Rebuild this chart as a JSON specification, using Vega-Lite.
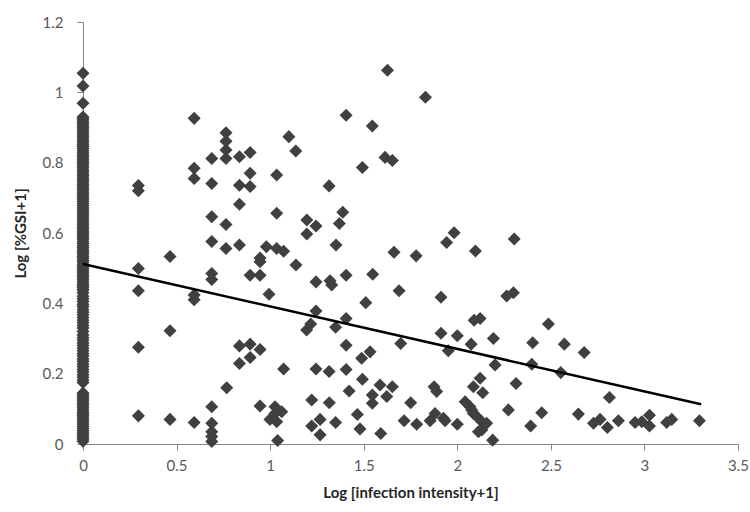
{
  "$schema": "https://vega.github.io/schema/vega-lite/v6.json",
  "autosize": "none",
  "width": 655,
  "height": 422,
  "padding": {"left": 83, "top": 22, "right": 12, "bottom": 68},
  "background": "white",
  "config": {
    "view": {"stroke": null},
    "font": "Lato",
    "axis": {
      "grid": false,
      "domainColor": "#868686",
      "tickColor": "#868686",
      "labelColor": "#595959",
      "labelFont": "Lato",
      "labelFontSize": 15,
      "titleFont": "Lato",
      "titleFontSize": 15,
      "titleFontWeight": "bold",
      "titleColor": "#262626",
      "tickSize": 6
    }
  },
  "datasets": {
    "pts": [
      {"x": 0, "y": 1.054}, {"x": 0, "y": 1.018}, {"x": 0, "y": 0.969},
      {"x": 0, "y": 0.93}, {"x": 0, "y": 0.924}, {"x": 0, "y": 0.918}, {"x": 0, "y": 0.912}, {"x": 0, "y": 0.906}, {"x": 0, "y": 0.9}, {"x": 0, "y": 0.894}, {"x": 0, "y": 0.888}, {"x": 0, "y": 0.882},
      {"x": 0, "y": 0.876}, {"x": 0, "y": 0.87}, {"x": 0, "y": 0.864}, {"x": 0, "y": 0.858}, {"x": 0, "y": 0.852}, {"x": 0, "y": 0.846}, {"x": 0, "y": 0.84}, {"x": 0, "y": 0.834}, {"x": 0, "y": 0.828}, {"x": 0, "y": 0.822},
      {"x": 0, "y": 0.816}, {"x": 0, "y": 0.81}, {"x": 0, "y": 0.804}, {"x": 0, "y": 0.798}, {"x": 0, "y": 0.792}, {"x": 0, "y": 0.786}, {"x": 0, "y": 0.78}, {"x": 0, "y": 0.774}, {"x": 0, "y": 0.768}, {"x": 0, "y": 0.762},
      {"x": 0, "y": 0.756}, {"x": 0, "y": 0.75}, {"x": 0, "y": 0.744}, {"x": 0, "y": 0.738}, {"x": 0, "y": 0.732}, {"x": 0, "y": 0.726}, {"x": 0, "y": 0.72}, {"x": 0, "y": 0.714}, {"x": 0, "y": 0.708}, {"x": 0, "y": 0.702},
      {"x": 0, "y": 0.696}, {"x": 0, "y": 0.69}, {"x": 0, "y": 0.684}, {"x": 0, "y": 0.678}, {"x": 0, "y": 0.672}, {"x": 0, "y": 0.666}, {"x": 0, "y": 0.66}, {"x": 0, "y": 0.654}, {"x": 0, "y": 0.648}, {"x": 0, "y": 0.642},
      {"x": 0, "y": 0.636}, {"x": 0, "y": 0.63}, {"x": 0, "y": 0.624}, {"x": 0, "y": 0.618}, {"x": 0, "y": 0.612}, {"x": 0, "y": 0.606}, {"x": 0, "y": 0.6}, {"x": 0, "y": 0.594}, {"x": 0, "y": 0.588}, {"x": 0, "y": 0.582},
      {"x": 0, "y": 0.576}, {"x": 0, "y": 0.57}, {"x": 0, "y": 0.564}, {"x": 0, "y": 0.558}, {"x": 0, "y": 0.552}, {"x": 0, "y": 0.546}, {"x": 0, "y": 0.54}, {"x": 0, "y": 0.534}, {"x": 0, "y": 0.528}, {"x": 0, "y": 0.522},
      {"x": 0, "y": 0.516}, {"x": 0, "y": 0.51}, {"x": 0, "y": 0.504}, {"x": 0, "y": 0.498}, {"x": 0, "y": 0.492}, {"x": 0, "y": 0.486}, {"x": 0, "y": 0.48}, {"x": 0, "y": 0.474}, {"x": 0, "y": 0.468}, {"x": 0, "y": 0.462},
      {"x": 0, "y": 0.456}, {"x": 0, "y": 0.45}, {"x": 0, "y": 0.444}, {"x": 0, "y": 0.438}, {"x": 0, "y": 0.43}, {"x": 0, "y": 0.42}, {"x": 0, "y": 0.412}, {"x": 0, "y": 0.405}, {"x": 0, "y": 0.397}, {"x": 0, "y": 0.39},
      {"x": 0, "y": 0.382}, {"x": 0, "y": 0.375}, {"x": 0, "y": 0.367}, {"x": 0, "y": 0.36}, {"x": 0, "y": 0.352}, {"x": 0, "y": 0.345}, {"x": 0, "y": 0.337}, {"x": 0, "y": 0.33}, {"x": 0, "y": 0.32}, {"x": 0, "y": 0.31},
      {"x": 0, "y": 0.302}, {"x": 0, "y": 0.295}, {"x": 0, "y": 0.287}, {"x": 0, "y": 0.28}, {"x": 0, "y": 0.272}, {"x": 0, "y": 0.265}, {"x": 0, "y": 0.257}, {"x": 0, "y": 0.25}, {"x": 0, "y": 0.242}, {"x": 0, "y": 0.235},
      {"x": 0, "y": 0.227}, {"x": 0, "y": 0.22}, {"x": 0, "y": 0.212}, {"x": 0, "y": 0.205}, {"x": 0, "y": 0.197}, {"x": 0, "y": 0.19}, {"x": 0, "y": 0.182}, {"x": 0, "y": 0.175}, {"x": 0, "y": 0.145}, {"x": 0, "y": 0.14},
      {"x": 0, "y": 0.134}, {"x": 0, "y": 0.128}, {"x": 0, "y": 0.122}, {"x": 0, "y": 0.116}, {"x": 0, "y": 0.11}, {"x": 0, "y": 0.104}, {"x": 0, "y": 0.098}, {"x": 0, "y": 0.092}, {"x": 0, "y": 0.086}, {"x": 0, "y": 0.08},
      {"x": 0, "y": 0.074}, {"x": 0, "y": 0.068}, {"x": 0, "y": 0.062}, {"x": 0, "y": 0.056}, {"x": 0, "y": 0.05}, {"x": 0, "y": 0.044}, {"x": 0, "y": 0.038}, {"x": 0, "y": 0.032}, {"x": 0, "y": 0.026}, {"x": 0, "y": 0.02},
      {"x": 0, "y": 0.014}, {"x": 0, "y": 0.008},
      {"x": 0.296, "y": 0.735}, {"x": 0.296, "y": 0.72}, {"x": 0.296, "y": 0.499}, {"x": 0.296, "y": 0.436}, {"x": 0.296, "y": 0.275}, {"x": 0.296, "y": 0.08},
      {"x": 0.465, "y": 0.533}, {"x": 0.465, "y": 0.322}, {"x": 0.465, "y": 0.07},
      {"x": 0.594, "y": 0.926}, {"x": 0.594, "y": 0.784}, {"x": 0.594, "y": 0.755}, {"x": 0.594, "y": 0.424}, {"x": 0.594, "y": 0.41}, {"x": 0.594, "y": 0.061},
      {"x": 0.688, "y": 0.812}, {"x": 0.688, "y": 0.741}, {"x": 0.688, "y": 0.646}, {"x": 0.688, "y": 0.576}, {"x": 0.688, "y": 0.485}, {"x": 0.688, "y": 0.468},
      {"x": 0.688, "y": 0.106}, {"x": 0.688, "y": 0.059}, {"x": 0.688, "y": 0.035}, {"x": 0.688, "y": 0.021}, {"x": 0.688, "y": 0.007},
      {"x": 0.764, "y": 0.885}, {"x": 0.764, "y": 0.861}, {"x": 0.764, "y": 0.836}, {"x": 0.764, "y": 0.812}, {"x": 0.764, "y": 0.624}, {"x": 0.764, "y": 0.556}, {"x": 0.768, "y": 0.16},
      {"x": 0.836, "y": 0.817}, {"x": 0.836, "y": 0.736}, {"x": 0.836, "y": 0.682}, {"x": 0.836, "y": 0.566}, {"x": 0.836, "y": 0.279}, {"x": 0.836, "y": 0.229},
      {"x": 0.893, "y": 0.829}, {"x": 0.893, "y": 0.77}, {"x": 0.893, "y": 0.732}, {"x": 0.893, "y": 0.48}, {"x": 0.893, "y": 0.284}, {"x": 0.893, "y": 0.246},
      {"x": 0.946, "y": 0.529}, {"x": 0.946, "y": 0.518}, {"x": 0.946, "y": 0.48}, {"x": 0.946, "y": 0.269}, {"x": 0.946, "y": 0.108},
      {"x": 0.98, "y": 0.561}, {"x": 0.994, "y": 0.426}, {"x": 0.999, "y": 0.07},
      {"x": 1.026, "y": 0.106}, {"x": 1.026, "y": 0.087},
      {"x": 1.035, "y": 0.765}, {"x": 1.035, "y": 0.656}, {"x": 1.04, "y": 0.01}, {"x": 1.035, "y": 0.556}, {"x": 1.035, "y": 0.063},
      {"x": 1.062, "y": 0.092}, {"x": 1.072, "y": 0.548}, {"x": 1.072, "y": 0.213},
      {"x": 1.1, "y": 0.874}, {"x": 1.137, "y": 0.833}, {"x": 1.138, "y": 0.509},
      {"x": 1.196, "y": 0.637}, {"x": 1.196, "y": 0.597}, {"x": 1.195, "y": 0.324}, {"x": 1.217, "y": 0.341},
      {"x": 1.222, "y": 0.125}, {"x": 1.222, "y": 0.051},
      {"x": 1.245, "y": 0.62}, {"x": 1.245, "y": 0.461}, {"x": 1.245, "y": 0.378}, {"x": 1.245, "y": 0.213},
      {"x": 1.267, "y": 0.07}, {"x": 1.267, "y": 0.026},
      {"x": 1.315, "y": 0.734}, {"x": 1.315, "y": 0.206}, {"x": 1.316, "y": 0.117},
      {"x": 1.32, "y": 0.464}, {"x": 1.329, "y": 0.452},
      {"x": 1.35, "y": 0.332}, {"x": 1.35, "y": 0.061}, {"x": 1.352, "y": 0.566}, {"x": 1.37, "y": 0.627}, {"x": 1.388, "y": 0.659},
      {"x": 1.406, "y": 0.935}, {"x": 1.406, "y": 0.48}, {"x": 1.406, "y": 0.357}, {"x": 1.406, "y": 0.281}, {"x": 1.406, "y": 0.212},
      {"x": 1.422, "y": 0.151}, {"x": 1.466, "y": 0.084}, {"x": 1.48, "y": 0.043},
      {"x": 1.489, "y": 0.244}, {"x": 1.493, "y": 0.786}, {"x": 1.493, "y": 0.184},
      {"x": 1.511, "y": 0.402}, {"x": 1.534, "y": 0.262},
      {"x": 1.546, "y": 0.904}, {"x": 1.548, "y": 0.483}, {"x": 1.546, "y": 0.139}, {"x": 1.546, "y": 0.116},
      {"x": 1.587, "y": 0.168}, {"x": 1.591, "y": 0.03},
      {"x": 1.614, "y": 0.815}, {"x": 1.623, "y": 0.135}, {"x": 1.627, "y": 1.063},
      {"x": 1.653, "y": 0.806}, {"x": 1.653, "y": 0.163}, {"x": 1.662, "y": 0.545},
      {"x": 1.689, "y": 0.436}, {"x": 1.698, "y": 0.286},
      {"x": 1.716, "y": 0.066}, {"x": 1.751, "y": 0.117}, {"x": 1.78, "y": 0.535}, {"x": 1.783, "y": 0.056},
      {"x": 1.83, "y": 0.986}, {"x": 1.855, "y": 0.066}, {"x": 1.876, "y": 0.163}, {"x": 1.881, "y": 0.087}, {"x": 1.89, "y": 0.149},
      {"x": 1.913, "y": 0.417}, {"x": 1.913, "y": 0.315}, {"x": 1.926, "y": 0.073}, {"x": 1.935, "y": 0.066},
      {"x": 1.943, "y": 0.573}, {"x": 1.952, "y": 0.265}, {"x": 1.983, "y": 0.601},
      {"x": 2.0, "y": 0.308}, {"x": 2.0, "y": 0.056},
      {"x": 2.042, "y": 0.12}, {"x": 2.068, "y": 0.106}, {"x": 2.074, "y": 0.284}, {"x": 2.077, "y": 0.097},
      {"x": 2.086, "y": 0.087}, {"x": 2.086, "y": 0.163}, {"x": 2.09, "y": 0.352}, {"x": 2.097, "y": 0.549},
      {"x": 2.104, "y": 0.078}, {"x": 2.113, "y": 0.035}, {"x": 2.122, "y": 0.357}, {"x": 2.122, "y": 0.187},
      {"x": 2.131, "y": 0.063}, {"x": 2.131, "y": 0.04}, {"x": 2.136, "y": 0.146}, {"x": 2.157, "y": 0.059},
      {"x": 2.189, "y": 0.011}, {"x": 2.193, "y": 0.3}, {"x": 2.202, "y": 0.225},
      {"x": 2.264, "y": 0.421}, {"x": 2.273, "y": 0.097}, {"x": 2.3, "y": 0.43}, {"x": 2.304, "y": 0.583}, {"x": 2.314, "y": 0.172},
      {"x": 2.392, "y": 0.051}, {"x": 2.398, "y": 0.227}, {"x": 2.403, "y": 0.288},
      {"x": 2.451, "y": 0.089}, {"x": 2.487, "y": 0.341}, {"x": 2.553, "y": 0.203}, {"x": 2.572, "y": 0.284},
      {"x": 2.647, "y": 0.085}, {"x": 2.678, "y": 0.26},
      {"x": 2.728, "y": 0.059}, {"x": 2.763, "y": 0.07}, {"x": 2.802, "y": 0.047}, {"x": 2.813, "y": 0.132}, {"x": 2.861, "y": 0.066},
      {"x": 2.95, "y": 0.061}, {"x": 2.986, "y": 0.063}, {"x": 3.027, "y": 0.082}, {"x": 3.027, "y": 0.051},
      {"x": 3.119, "y": 0.061}, {"x": 3.146, "y": 0.07}, {"x": 3.294, "y": 0.066}
    ],
    "trend": [
      {"x": 0, "y": 0.512},
      {"x": 3.303, "y": 0.113}
    ]
  },
  "layer": [
    {
      "data": {"name": "pts"},
      "mark": {"type": "point", "shape": "diamond", "filled": true, "size": 170, "color": "#404040", "opacity": 1},
      "encoding": {
        "x": {
          "field": "x", "type": "quantitative",
          "scale": {"domain": [0, 3.5], "nice": false, "zero": false},
          "axis": {"values": [0, 0.5, 1, 1.5, 2, 2.5, 3, 3.5], "format": "~g", "title": "Log [infection intensity+1]", "labelPadding": 8, "titlePadding": 12, "labelFlush": false}
        },
        "y": {
          "field": "y", "type": "quantitative",
          "scale": {"domain": [0, 1.2], "nice": false},
          "axis": {"values": [0, 0.2, 0.4, 0.6, 0.8, 1, 1.2], "format": "~g", "title": "Log [%GSI+1]", "labelPadding": 14, "titlePadding": 14, "labelFlush": false}
        }
      }
    },
    {
      "data": {"name": "trend"},
      "mark": {"type": "line", "color": "#000000", "strokeWidth": 2.5},
      "encoding": {
        "x": {"field": "x", "type": "quantitative"},
        "y": {"field": "y", "type": "quantitative"}
      }
    }
  ]
}
